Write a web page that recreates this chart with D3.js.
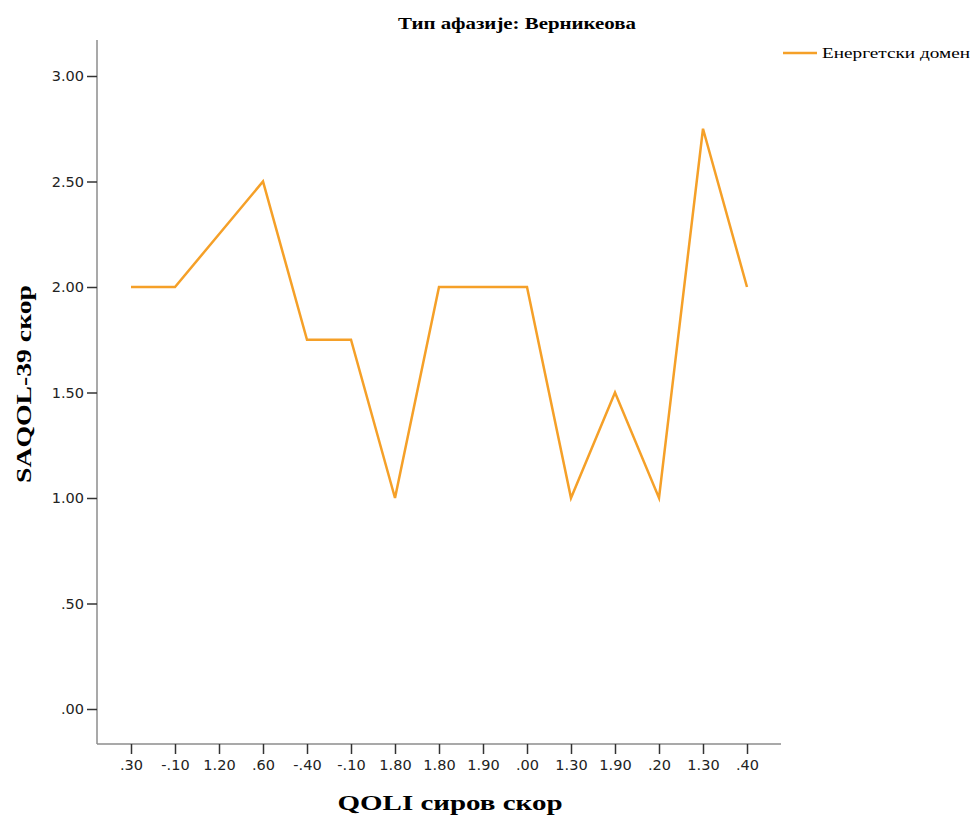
<!DOCTYPE html>
<html><head><meta charset="utf-8">
<script src="https://cdn.jsdelivr.net/npm/d3@7"></script>
<style>body{margin:0;background:#fff}</style>
</head><body>
<svg id="c" width="973" height="816"></svg>
<script>
const categories = [".30","-.10","1.20",".60","-.40","-.10","1.80","1.80","1.90",".00","1.30","1.90",".20","1.30",".40"];
const values = [2.00,2.00,2.25,2.50,1.75,1.75,1.00,2.00,2.00,2.00,1.00,1.50,1.00,2.75,2.00];
const yTicks = [0,0.5,1,1.5,2,2.5,3];
const seriesName = "Енергетски домен";
const title = "Тип афазије: Верникеова";
const xLabel = "QOLI сиров скор";
const yLabel = "SAQOL-39 скор";

const svg = d3.select("#c");
const idx = categories.map((d,i)=>i);
const x = d3.scalePoint().domain(idx).range([131,747]);
const y = d3.scaleLinear().domain([0,3]).range([709,76]);
const axisColor = "#8c8c8c";

// axes lines
svg.append("line").attr("x1",97).attr("x2",97).attr("y1",40).attr("y2",744).attr("stroke",axisColor).attr("stroke-width",1.5);
svg.append("line").attr("x1",97).attr("x2",781).attr("y1",744).attr("y2",744).attr("stroke",axisColor).attr("stroke-width",1.5);

const yAxis = d3.axisLeft(y).tickValues(yTicks).tickSize(10).tickPadding(3)
  .tickFormat(d=>{const s=d3.format(".2f")(d);return s.startsWith("0")?s.slice(1):s;});
const gy = svg.append("g").attr("transform","translate(97,0)").call(yAxis);
gy.select(".domain").remove();
gy.selectAll(".tick line").attr("stroke","#333").attr("stroke-width",1.5);
gy.selectAll(".tick text").attr("font-family","DejaVu Sans").attr("font-size",14.5).attr("fill","#222");

const xAxis = d3.axisBottom(x).tickSize(10).tickPadding(6).tickFormat(i=>categories[i]);
const gx = svg.append("g").attr("transform","translate(0,744)").call(xAxis);
gx.select(".domain").remove();
gx.selectAll(".tick line").attr("stroke","#333").attr("stroke-width",1.5);
gx.selectAll(".tick text").attr("font-family","DejaVu Sans").attr("font-size",14.5).attr("fill","#222");

// line
const line = d3.line().x((d,i)=>x(i)).y(d=>y(d));
svg.append("path").datum(values).attr("d",line).attr("fill","none")
  .attr("stroke","#f5a028").attr("stroke-width",2.5).attr("stroke-linejoin","miter");

// title
svg.append("text").attr("x",517).attr("y",29).attr("text-anchor","middle")
  .attr("font-family","Liberation Serif").attr("font-weight","bold").attr("font-size",17)
  .attr("textLength",238).attr("lengthAdjust","spacingAndGlyphs").text(title);
// axis labels
svg.append("text").attr("x",450).attr("y",810).attr("text-anchor","middle")
  .attr("font-family","Liberation Serif").attr("font-weight","bold").attr("font-size",21)
  .attr("textLength",225).attr("lengthAdjust","spacingAndGlyphs").text(xLabel);
svg.append("text").attr("transform","translate(31,384) rotate(-90)").attr("text-anchor","middle")
  .attr("font-family","Liberation Serif").attr("font-weight","bold").attr("font-size",21)
  .attr("textLength",198).attr("lengthAdjust","spacingAndGlyphs").text(yLabel);
// legend
svg.append("line").attr("x1",783).attr("x2",817).attr("y1",53).attr("y2",53).attr("stroke","#f5a028").attr("stroke-width",2.5);
svg.append("text").attr("x",822).attr("y",58).attr("font-family","Liberation Serif").attr("font-size",15)
  .attr("textLength",148).attr("lengthAdjust","spacingAndGlyphs").text(seriesName);
</script>
</body></html>
